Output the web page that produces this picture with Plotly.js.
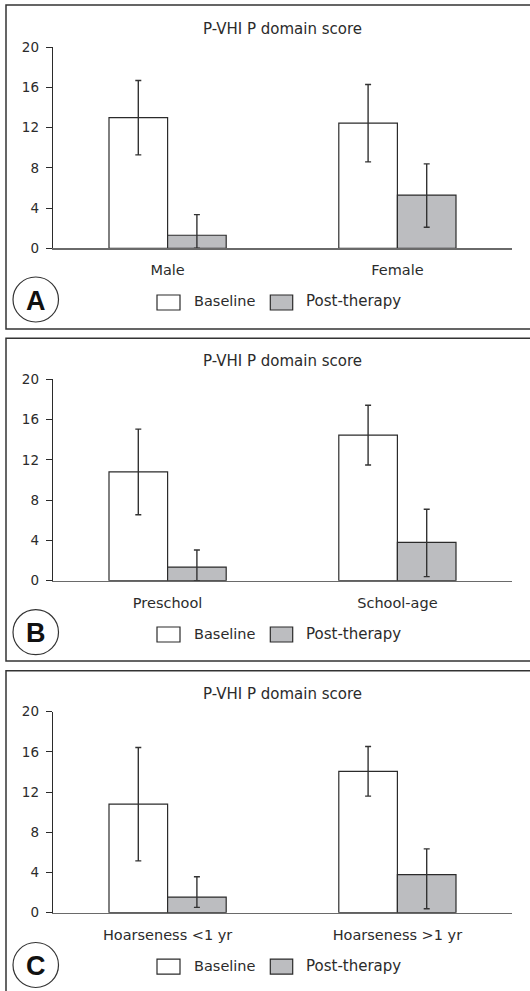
<!DOCTYPE html>
<html>
<head>
<meta charset="utf-8">
<script src="https://cdn.plot.ly/plotly-3.0.1.min.js"></script>
<style>html,body{margin:0;padding:0;background:#fff;}#chart{width:530px;height:991px;}</style>
</head>
<body>
<div id="chart"></div>
<script>
// ---- data ----
const seriesNames = ['Baseline', 'Post-therapy'];
const chartTitle = 'P-VHI P domain score';
const panelLetters = ['A', 'B', 'C'];

const catsA = ['Male', 'Female'];
const baseA = [13.0, 12.45];
const baseAErr = [3.7, 3.85];
const postA = [1.3, 5.3];
const postAErrPlus = [2.05, 3.1];
const postAErrMinus = [1.3, 3.2];

const catsB = ['Preschool', 'School-age'];
const baseB = [10.8, 14.46];
const baseBErr = [4.25, 2.97];
const postB = [1.35, 3.8];
const postBErrPlus = [1.7, 3.3];
const postBErrMinus = [1.35, 3.4];

const catsC = ['Hoarseness <1 yr', 'Hoarseness >1 yr'];
const baseC = [10.8, 14.07];
const baseCErr = [5.64, 2.47];
const postC = [1.55, 3.78];
const postCErrPlus = [2.03, 2.57];
const postCErrMinus = [1.02, 3.38];

const yTicks = [0, 4, 8, 12, 16, 20];

// ---- layout helpers (pixel -> paper) ----
const W = 530, H = 991;
const px = x => x / W;
const py = y => 1 - y / H;

const FONT = 'DejaVu Sans, sans-serif';
const INK = '#2b2b2b';
const GRAY = '#bcbdc0';

const panels = [
  {cats: catsA, base: baseA, baseErr: baseAErr, post: postA, pp: postAErrPlus, pm: postAErrMinus,
   top: 47.3, bottom: 248.3, boxTop: 5, boxBottom: 329, circleY: 299.5, legY: 302.5},
  {cats: catsB, base: baseB, baseErr: baseBErr, post: postB, pp: postBErrPlus, pm: postBErrMinus,
   top: 379.3, bottom: 580.7, boxTop: 338.3, boxBottom: 661, circleY: 632.2, legY: 634.5},
  {cats: catsC, base: baseC, baseErr: baseCErr, post: postC, pp: postCErrPlus, pm: postCErrMinus,
   top: 711.7, bottom: 912.7, boxTop: 670.7, boxBottom: 1000, circleY: 965, legY: 966.6}
];

const xL = 52.7, xR = 512.3;
const traces = [];
const layout = {
  width: W, height: H, autosize: false,
  margin: {l: 0, r: 0, t: 0, b: 0},
  paper_bgcolor: '#fff', plot_bgcolor: '#fff',
  showlegend: false,
  barmode: 'group', bargap: 0.49, bargroupgap: 0,
  font: {family: FONT, size: 14, color: INK},
  shapes: [], annotations: []
};

panels.forEach((p, i) => {
  const n = i === 0 ? '' : String(i + 1);
  const xa = 'x' + n, ya = 'y' + n;
  traces.push({
    type: 'bar', name: seriesNames[0], x: p.cats, y: p.base, xaxis: xa, yaxis: ya,
    marker: {color: '#ffffff', line: {color: INK, width: 1.2}},
    error_y: {type: 'data', array: p.baseErr, symmetric: true, color: '#333', thickness: 1.4, width: 3}
  });
  traces.push({
    type: 'bar', name: seriesNames[1], x: p.cats, y: p.post, xaxis: xa, yaxis: ya,
    marker: {color: GRAY, line: {color: INK, width: 1.2}},
    error_y: {type: 'data', array: p.pp, arrayminus: p.pm, symmetric: false, color: '#333', thickness: 1.4, width: 3}
  });
  layout['xaxis' + n] = {
    domain: [px(xL), px(xR)], anchor: ya, type: 'category', range: [-0.5, 1.5],
    showline: true, linecolor: '#6a6a6a', linewidth: 1.5, ticks: '', showgrid: false, zeroline: false,
    tickfont: {family: FONT, size: 14.5, color: INK}, ticklabelstandoff: 8, fixedrange: true
  };
  layout['yaxis' + n] = {
    domain: [py(p.bottom), py(p.top)], anchor: xa, range: [0, 20],
    tickvals: yTicks, ticktext: yTicks.map(String),
    showline: true, linecolor: INK, linewidth: 1, ticks: 'outside', ticklen: 6, tickwidth: 1, tickcolor: INK,
    showgrid: false, zeroline: false, tickfont: {family: FONT, size: 13.5, color: INK}, ticklabelstandoff: 4, fixedrange: true
  };
  // panel frame
  layout.shapes.push({type: 'rect', xref: 'paper', yref: 'paper', x0: px(6), x1: px(531), y0: py(p.boxBottom), y1: py(p.boxTop),
    line: {color: '#333', width: 1.5}, fillcolor: 'rgba(0,0,0,0)', layer: 'below'});
  // title
  layout.annotations.push({xref: 'paper', yref: 'paper', x: px(282), y: py(p.top - 18), text: chartTitle,
    showarrow: false, xanchor: 'center', yanchor: 'middle', font: {family: FONT, size: 15, color: INK}});
  // circled letter
  layout.shapes.push({type: 'circle', xref: 'paper', yref: 'paper', x0: px(13), x1: px(58.5), y0: py(p.circleY + 22.5), y1: py(p.circleY - 22.5),
    line: {color: '#333', width: 1.2}, fillcolor: 'rgba(0,0,0,0)'});
  layout.annotations.push({xref: 'paper', yref: 'paper', x: px(35.8), y: py(p.circleY + 1), text: '<b>' + panelLetters[i] + '</b>',
    showarrow: false, xanchor: 'center', yanchor: 'middle', font: {family: 'Liberation Sans, Arial, sans-serif', size: 27, color: '#111'}});
  // legend keys
  layout.shapes.push({type: 'rect', xref: 'paper', yref: 'paper', x0: px(157), x1: px(180), y0: py(p.legY + 7.5), y1: py(p.legY - 7.5),
    line: {color: INK, width: 1.2}, fillcolor: '#ffffff'});
  layout.shapes.push({type: 'rect', xref: 'paper', yref: 'paper', x0: px(270.3), x1: px(292.7), y0: py(p.legY + 7.5), y1: py(p.legY - 7.5),
    line: {color: INK, width: 1.2}, fillcolor: GRAY});
  layout.annotations.push({xref: 'paper', yref: 'paper', x: px(191.5), y: py(p.legY - 1), text: seriesNames[0],
    showarrow: false, xanchor: 'left', yanchor: 'middle', font: {family: FONT, size: 14.5, color: INK}});
  layout.annotations.push({xref: 'paper', yref: 'paper', x: px(304), y: py(p.legY - 1), text: seriesNames[1],
    showarrow: false, xanchor: 'left', yanchor: 'middle', font: {family: FONT, size: 15, color: INK}});
});

Plotly.newPlot('chart', traces, layout, {staticPlot: true, displayModeBar: false});
</script>
</body>
</html>
